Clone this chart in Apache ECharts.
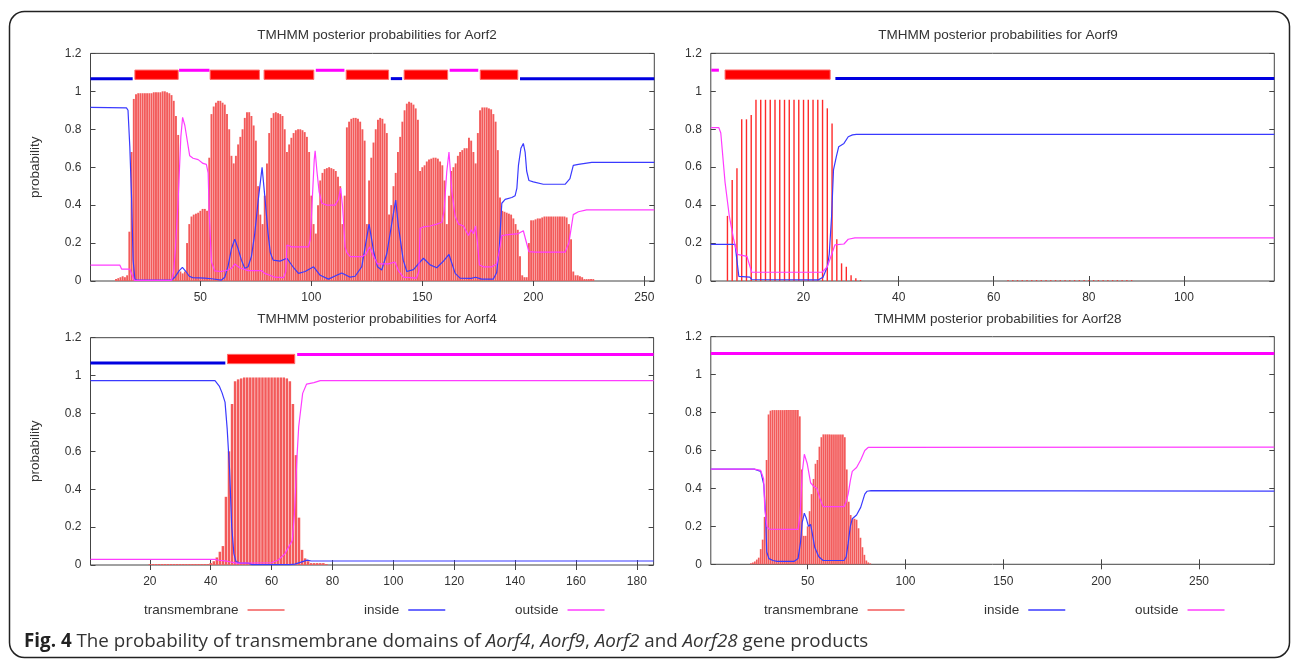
<!DOCTYPE html>
<html><head><meta charset="utf-8">
<script src="https://cdn.jsdelivr.net/npm/echarts@6.0.0/dist/echarts.min.js"></script>
<style>html,body{margin:0;padding:0;background:#fff}#c{width:1293px;height:659px}</style>
</head><body><div id="c"></div>
<script>
// ---------------- DATA ----------------
const panelTitles = ['TMHMM posterior probabilities for Aorf2','TMHMM posterior probabilities for Aorf9','TMHMM posterior probabilities for Aorf4','TMHMM posterior probabilities for Aorf28'];
const seriesNames = ['transmembrane','inside','outside'];
const yTickStep = 0.2;
const aorf2Ticks = [50,100,150,200,250];
const aorf9Ticks = [20,40,60,80,100];
const aorf4Ticks = [20,40,60,80,100,120,140,160,180];
const aorf28Ticks = [50,100,150,200,250];
const seqRange = [[0.5,254.5],[0.5,119],[0.5,185.5],[0.5,288.5]];

// transmembrane posterior per residue, starting at residue tmStart
const aorf2TMStart = 12;
const aorf2TM = [.01,.015,.02,.025,.02,.03,.26,.68,.96,
.985,.99,.99,.99,.99,.99,.99,.99,.995,.995,
.995,.995,1,1,.995,.99,.98,.95,.87,.77,
.05,.04,.05,.2,.3,.34,.35,.355,.36,.37,
.38,.38,.37,.65,.88,.92,.94,.95,.95,.94,
.93,.88,.8,.66,.62,.66,.72,.76,.8,.86,
.89,.89,.87,.82,.74,.5,.35,.3,.45,.62,
.78,.86,.885,.89,.885,.88,.87,.8,.68,.72,
.755,.78,.795,.8,.8,.795,.785,.76,.68,.45,
.3,.25,.4,.53,.57,.59,.595,.6,.595,.59,
.58,.55,.5,.3,.45,.81,.84,.855,.86,.86,
.855,.84,.8,.74,.3,.53,.65,.73,.8,.85,
.86,.855,.83,.78,.35,.4,.5,.57,.68,.76,
.84,.9,.935,.945,.94,.93,.91,.85,.58,.6,
.61,.63,.64,.645,.65,.65,.645,.63,.61,.53,
.3,.45,.58,.6,.62,.66,.68,.69,.7,.7,
.755,.74,.68,.62,.78,.9,.915,.915,.915,.91,
.905,.88,.84,.69,.44,.37,.365,.36,.355,.35,
.33,.3,.27,.13,.03,.02,.02,.2,.32,.32,
.325,.33,.33,.335,.34,.34,.34,.34,.34,.34,.34,.34,.34,.34,
.335,.3,.22,.05,.03,.03,.025,.02,.01,.01,.01,.01,.01];
const aorf9TMStart = 4;
const aorf9TM = [.343,.532,.594,.852,.852,.875,
.955,.955,.955,.955,.955,.955,.955,.955,.955,.955,.955,.955,.955,.955,.955,
.91,.83,.22,.093,.075,.03,.014,.005,
0,0,0,0,0,0,0,0,0,0,0,0,0,0,0,0,0,0,0,0,0,0,0,0,0,0,0,0,0,0,
.004,.004,.004,.004,.004,.004,.004,.004,.004,.004,.004,.004,.004,.004,.004,.004,.004,.004,.004,.004,.004,.004,.004,.004,.004,.004,.004];
const aorf4TMStart = 20;
const aorf4TM = [.005,.005,.005,.005,.005,.005,.005,.005,.005,.005,.005,.005,.005,.005,.005,.005,.005,.005,.005,.005,
.01,.02,.04,.07,.1,.36,.6,.85,.97,.98,.985,
.99,.99,.99,.99,.99,.99,.99,.99,.99,.99,.99,.99,.99,.99,
.985,.97,.85,.58,.25,.08,.035,.02,.01,.01,.01,.01,.01,.005];
const aorf28TMStart = 21;
const aorf28TM = [.005,.01,.015,.025,.035,.08,.13,.25,.55,.79,.81,
.813,.813,.813,.813,.813,.813,.813,.813,.813,.813,.813,.813,.813,.813,
.78,.5,.15,.15,.2,.28,.37,.45,.53,.55,.62,.67,
.685,.685,.685,.685,.685,.685,.685,.685,.685,.685,.685,
.67,.5,.33,.26,.24,.24,.235,.19,.14,.09,.05,.02,.01,.005];

// inside / outside posterior, [residue, probability]
const aorf2Inside = [[0.5,0.915],[16.7,0.913],[17.4,0.9],[18.2,0.71],[19,0.44],[19.7,0.11],[20.5,0.01],[21.5,0.005],[37,0.005],[38.5,0.02],[40.5,0.055],[41.9,0.072],[43.5,0.05],[45,0.025],[46.5,0.018],[52,0.015],[55,0.012],[59.5,0.005],[61,0.02],[62.5,0.08],[64,0.17],[65.5,0.221],[67,0.17],[68.5,0.11],[70,0.067],[71.5,0.075],[73,0.13],[74.5,0.25],[76,0.42],[77.8,0.6],[79,0.45],[80.5,0.25],[81.5,0.15],[82.8,0.11],[85.9,0.105],[89,0.12],[92,0.07],[94.2,0.04],[97.2,0.05],[101,0.075],[104,0.03],[107.7,0.01],[111.4,0.03],[113.7,0.042],[117.5,0.02],[119.7,0.025],[122.7,0.075],[124.5,0.198],[126,0.3],[128,0.16],[129.8,0.075],[131.7,0.058],[134,0.145],[136.7,0.337],[138,0.427],[139.2,0.29],[141.4,0.11],[143,0.05],[146,0.06],[148.2,0.09],[150.5,0.12],[153.5,0.085],[156.5,0.07],[159.5,0.105],[162,0.14],[164.8,0.04],[167,0.015],[172,0.014],[174,0.02],[176.7,0.01],[182,0.01],[183.5,0.045],[184.7,0.18],[185.8,0.41],[187.3,0.43],[190.3,0.44],[191.8,0.45],[192.6,0.49],[193.3,0.61],[194.4,0.7],[195.5,0.725],[196.3,0.68],[197,0.58],[198,0.53],[200,0.523],[204.5,0.51],[214.3,0.51],[216.5,0.54],[218,0.61],[220.3,0.615],[226.3,0.625],[254.5,0.625]];
const aorf2Outside = [[0.5,0.084],[13.7,0.084],[14.5,0.063],[18.2,0.063],[19,0.04],[20.2,0.003],[37,0.003],[38,0.05],[38.8,0.18],[40,0.43],[41.2,0.76],[42,0.863],[43,0.82],[44.5,0.71],[45.2,0.66],[46.7,0.647],[49,0.64],[51.2,0.62],[52.7,0.615],[53.5,0.57],[54,0.35],[55,0.1],[56.5,0.053],[59.5,0.05],[62.5,0.058],[64.3,0.07],[65.5,0.09],[67.7,0.07],[71.5,0.055],[77.5,0.055],[79,0.04],[81.3,0.03],[83.5,0.02],[87.5,0.018],[88.5,0.05],[89,0.19],[89.7,0.2],[91.2,0.18],[98.7,0.18],[99.5,0.22],[100.5,0.45],[101.3,0.64],[101.7,0.687],[102.5,0.58],[103.5,0.47],[104.7,0.41],[107,0.4],[110.7,0.4],[112.2,0.43],[113.2,0.49],[114,0.4],[115.2,0.18],[116,0.15],[117.5,0.128],[122.7,0.128],[124.5,0.14],[126.3,0.18],[128,0.13],[129.8,0.09],[134.7,0.09],[137.7,0.1],[139.2,0.055],[141.4,0.02],[147.4,0.015],[148.4,0.05],[149,0.278],[150.5,0.285],[153.5,0.29],[156.5,0.3],[158.8,0.31],[159.8,0.37],[161,0.576],[162,0.68],[163.3,0.47],[164.8,0.34],[166.3,0.3],[168.5,0.29],[170.8,0.24],[172,0.27],[173,0.25],[174,0.29],[175,0.18],[175.7,0.084],[177.5,0.075],[181.3,0.075],[183.5,0.09],[185,0.18],[185.8,0.24],[188.8,0.245],[193.3,0.25],[195.5,0.265],[196.5,0.22],[198,0.155],[200.8,0.152],[214.3,0.152],[216,0.2],[218,0.35],[220.3,0.365],[224,0.375],[254.5,0.375]];
const aorf9Inside = [[0.5,0.193],[5.6,0.193],[6.4,0.024],[8.7,0.02],[9.1,0.008],[23.1,0.006],[24.1,0.02],[25,0.075],[25.4,0.14],[25.9,0.34],[26.3,0.585],[26.9,0.655],[27.4,0.708],[28.5,0.725],[29.4,0.76],[30.3,0.77],[31.1,0.773],[119,0.773]];
const aorf9Outside = [[0.5,0.808],[2.2,0.808],[2.6,0.78],[3.5,0.52],[4.4,0.34],[5.3,0.22],[6.1,0.14],[6.5,0.13],[8.1,0.13],[8.5,0.12],[9.1,0.046],[23.9,0.046],[25,0.075],[25.9,0.14],[26.6,0.19],[28.5,0.195],[29.4,0.22],[30.8,0.227],[119,0.227]];
const aorf4Inside = [[0.5,0.973],[41.4,0.973],[42.8,0.945],[43.7,0.91],[44.7,0.86],[45.4,0.72],[46.2,0.5],[46.9,0.2],[47.6,0.06],[48.3,0.018],[49.6,0.01],[52.4,0.01],[53.6,0.002],[66,0.002],[67.6,0.005],[69.7,0.015],[71.7,0.026],[73,0.021],[185.5,0.021]];
const aorf4Outside = [[0.5,0.03],[41.4,0.03],[42.8,0.025],[45.4,0.02],[48.3,0.01],[60,0.012],[62.3,0.028],[64.4,0.06],[66.8,0.13],[67.5,0.27],[68.3,0.56],[68.9,0.73],[70.2,0.906],[71.5,0.955],[73.9,0.963],[76,0.973],[185.5,0.973]];
const aorf28Inside = [[0.5,0.502],[22.7,0.502],[26,0.49],[27.6,0.42],[28.5,0.26],[29.1,0.065],[30.2,0.03],[32.3,0.02],[34.4,0.015],[43,0.015],[45.1,0.03],[46.4,0.12],[47.2,0.22],[48.3,0.27],[49.4,0.24],[50.4,0.2],[51.5,0.21],[52.6,0.15],[53.6,0.09],[55.7,0.04],[57.9,0.02],[68.6,0.02],[69.7,0.04],[70.7,0.11],[71.8,0.2],[72.8,0.24],[75,0.26],[77.1,0.3],[79.2,0.37],[80.3,0.385],[82.4,0.388],[288.5,0.386]];
const aorf28Outside = [[0.5,0.502],[22.7,0.502],[26,0.495],[27.5,0.45],[28.1,0.29],[29.2,0.2],[30.2,0.185],[45.1,0.184],[46.2,0.27],[47.2,0.48],[48.3,0.58],[48.9,0.59],[49.8,0.53],[51.5,0.43],[53.2,0.41],[54.7,0.4],[56.2,0.35],[57.9,0.304],[68.6,0.304],[69.7,0.33],[70.7,0.37],[71.8,0.44],[72.8,0.49],[75,0.51],[77.1,0.55],[79.2,0.6],[80.9,0.616],[288.5,0.618]];

// predicted topology: [from, to, kind] kind 0 = inside, 1 = outside, 2 = TM helix
const aorf2Topo = [[0.5,19.5,0],[20.5,40,2],[40.4,54.1,1],[54.4,76.6,2],[78.7,101.1,2],[102,114.9,1],[115.7,134.8,2],[135.8,140.9,0],[141.8,161.4,2],[162.3,175.2,1],[176.1,193,2],[194,254.5,0]];
const aorf9Topo = [[0.6,2.2,1],[3.5,25.6,2],[26.7,119,0]];
const aorf4Topo = [[0.5,44.8,0],[45.5,67.6,2],[68.4,185.5,1]];
const aorf28Topo = [[0.5,288.5,1]];
const topoLevels = {inside:1.067, outside:1.111, tmTop:1.112, tmBottom:1.063};

// ---------------- LAYOUT / STYLE ----------------
const FONT = 'Liberation Sans';
const TXT = '#333';
const grids = [
  {left:90.5, top:53.4, width:563.8, height:227.6},
  {left:710.8, top:53.3, width:563.5, height:227.7},
  {left:90.5, top:337.7, width:563.1, height:227.3},
  {left:710.8, top:336.7, width:563.5, height:227.6}
];
const titlePos = [[372,23],[993,23],[372,307],[993,307]];
const barWidths = [1.9, 1.4, 2.5, 1.7];
const barColors = ['#f35a5a', '#ff2a2a', '#f35a5a', '#f35a5a'];
const COL = {inside:'#3a3aff', outside:'#ff3cff', trackIn:'#0000e0', trackOut:'#ff00ff', trackTM:'#ff0000'};

const tmSets = [[aorf2TMStart,aorf2TM],[aorf9TMStart,aorf9TM],[aorf4TMStart,aorf4TM],[aorf28TMStart,aorf28TM]];
const insideSets = [aorf2Inside, aorf9Inside, aorf4Inside, aorf28Inside];
const outsideSets = [aorf2Outside, aorf9Outside, aorf4Outside, aorf28Outside];
const topoSets = [aorf2Topo, aorf9Topo, aorf4Topo, aorf28Topo];
const tickSets = [aorf2Ticks, aorf9Ticks, aorf4Ticks, aorf28Ticks];

function renderTopo(params, api){
  const s = api.value(0), e = api.value(1), k = api.value(2);
  if (k === 2) {
    const a = api.coord([s, topoLevels.tmTop]), b = api.coord([e, topoLevels.tmBottom]);
    return {type:'rect', shape:{x:a[0], y:a[1], width:b[0]-a[0], height:b[1]-a[1]},
      style:{fill:COL.trackTM, stroke:'#ff6a6a', lineWidth:1}};
  }
  const lvl = k === 0 ? topoLevels.inside : topoLevels.outside;
  const a = api.coord([s, lvl]), b = api.coord([e, lvl]);
  return {type:'rect', shape:{x:a[0], y:a[1]-1.5, width:b[0]-a[0], height:3},
    style:{fill: k === 0 ? COL.trackIn : COL.trackOut}};
}

const xAxis = [], yAxis = [], series = [], title = [];
for (let i = 0; i < 4; i++) {
  const [mn, mx] = seqRange[i];
  xAxis.push({type:'value', gridIndex:i, min:mn, max:mx, position:'bottom',
    axisLine:{show:false}, splitLine:{show:false},
    axisTick:{inside:true, length:5, customValues:tickSets[i], lineStyle:{color:'#444'}},
    axisLabel:{customValues:tickSets[i], color:TXT, fontFamily:FONT, fontSize:12, margin:11}});
  yAxis.push({type:'value', gridIndex:i, min:0, max:1.2, interval:yTickStep,
    axisLine:{show:false}, splitLine:{show:false},
    axisTick:{inside:true, length:5, lineStyle:{color:'#444'}},
    axisLabel:{color:TXT, fontFamily:FONT, fontSize:12, margin:9},
    name: (i % 2 === 0) ? 'probability' : '', nameLocation:'middle', nameGap:48, nameRotate:90,
    nameTextStyle:{color:TXT, fontFamily:FONT, fontSize:13.5}});
  title.push({text:panelTitles[i], left:titlePos[i][0], top:titlePos[i][1], textAlign:'center',
    textStyle:{color:TXT, fontFamily:FONT, fontSize:13.5, fontWeight:'normal'}});
}
for (let i = 0; i < 4; i++) {
  const [mn, mx] = seqRange[i];
  xAxis.push({type:'value', gridIndex:i, min:mn, max:mx, position:'top',
    axisLine:{show:false}, splitLine:{show:false}, axisLabel:{show:false},
    axisTick:{inside:true, length:5, customValues:tickSets[i], lineStyle:{color:'#444'}}});
  yAxis.push({type:'value', gridIndex:i, min:0, max:1.2, interval:yTickStep, position:'right',
    axisLine:{show:false}, splitLine:{show:false}, axisLabel:{show:false},
    axisTick:{inside:true, length:5, lineStyle:{color:'#444'}}});
}
for (let i = 0; i < 4; i++) {
  const [start, vals] = tmSets[i];
  series.push({type:'bar', name:seriesNames[0], xAxisIndex:i, yAxisIndex:i,
    barWidth:barWidths[i], color:barColors[i], itemStyle:{color:barColors[i]}, silent:true, animation:false,
    data: vals.map((v, j) => [start + j, v])});
  series.push({type:'custom', name:'topology', xAxisIndex:i, yAxisIndex:i, silent:true, animation:false,
    renderItem:renderTopo, encode:{x:[0,1]}, data:topoSets[i], z:3});
  series.push({type:'line', name:seriesNames[1], xAxisIndex:i, yAxisIndex:i, color:COL.inside,
    showSymbol:false, symbol:'none', silent:true, animation:false, z:4,
    lineStyle:{color:COL.inside, width:1.2}, data:insideSets[i]});
  series.push({type:'line', name:seriesNames[2], xAxisIndex:i, yAxisIndex:i, color:COL.outside,
    showSymbol:false, symbol:'none', silent:true, animation:false, z:4,
    lineStyle:{color:COL.outside, width:1.2}, data:outsideSets[i]});
}
title.push({text:'{b|Fig. 4} The probability of transmembrane domains of {i|Aorf4}, {i|Aorf9}, {i|Aorf2} and {i|Aorf28} gene products',
  left:24, top:632, padding:[0,0,0,0], textStyle:{color:'#333', fontFamily:'Open Sans', fontSize:18.8, fontWeight:'normal',
  rich:{b:{fontFamily:'Open Sans', fontSize:18.8, fontWeight:'bold', color:'#222'},
        i:{fontFamily:'Open Sans', fontSize:18.8, fontStyle:'italic', color:'#333'}}}});

const legendPos = [[144,364,515],[764,984,1135]];
const legend = [];
legendPos.forEach(row => row.forEach((lx, k) => {
  legend.push({data:[seriesNames[k]], left:lx, top:603, padding:0, align:'right', orient:'horizontal',
    icon:'rect', itemWidth:37, itemHeight:1.4, selectedMode:false,
    textStyle:{color:TXT, fontFamily:FONT, fontSize:13.5, padding:[0,4,0,0]}});
}));

const chart = echarts.init(document.getElementById('c'), null, {renderer:'canvas'});
chart.setOption({
  animation:false,
  backgroundColor:'#fff',
  title, legend, xAxis, yAxis, series,
  grid: grids.map(g => Object.assign({show:true, borderColor:'#444', borderWidth:1, backgroundColor:'transparent', outerBoundsMode:'none'}, g)),
  graphic:[{type:'rect', shape:{x:9.5, y:11.5, width:1280, height:646, r:15}, silent:true,
    style:{fill:'none', stroke:'#222', lineWidth:1.5}, z:-1}]
});
</script></body></html>
